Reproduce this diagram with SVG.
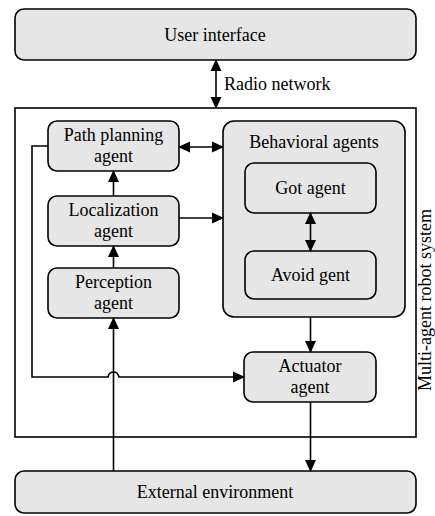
<svg xmlns="http://www.w3.org/2000/svg" width="435" height="516" viewBox="0 0 435 516">
<style>
.box{fill:#e6e6e6;stroke:#000;stroke-width:1.6}
.t{font-family:'Liberation Serif','Times New Roman','DejaVu Serif',serif;font-size:18px;fill:#000;text-anchor:middle}
.c{fill:none;stroke:#000;stroke-width:1.6}
</style>
<defs>
<marker id="ah" markerUnits="userSpaceOnUse" markerWidth="12" markerHeight="12" refX="11" refY="6" orient="auto-start-reverse" viewBox="0 0 12 12">
<path d="M0,0.5 L12,6 L0,11.5 z" fill="#000"/>
</marker>
</defs>
<rect x="0" y="0" width="435" height="516" fill="#fff"/>
<g id="system">
<rect x="15" y="108" width="401" height="329" fill="none" stroke="#000" stroke-width="1.6"/>
<text class="t" font-family="Liberation Serif, serif" transform="translate(431,300) rotate(-90)">Multi-agent robot system</text>
</g>
<g id="user-interface">
<rect class="box" x="15" y="9" width="401" height="51" rx="9"/>
<text class="t" x="215" y="41">User interface</text>
</g>
<g id="path-planning">
<rect class="box" x="48" y="121" width="131" height="50" rx="9"/>
<text class="t" x="113.5" y="141">Path planning</text>
<text class="t" x="113.5" y="162">agent</text>
</g>
<g id="localization">
<rect class="box" x="48" y="196" width="131" height="50" rx="9"/>
<text class="t" x="113.5" y="216">Localization</text>
<text class="t" x="113.5" y="237">agent</text>
</g>
<g id="perception">
<rect class="box" x="48" y="268" width="131" height="50" rx="9"/>
<text class="t" x="113.5" y="288">Perception</text>
<text class="t" x="113.5" y="309">agent</text>
</g>
<g id="behavioral">
<rect class="box" x="223" y="121" width="182" height="196" rx="11"/>
<text class="t" x="314" y="148">Behavioral agents</text>
</g>
<g id="got">
<rect class="box" x="245" y="163" width="131" height="50" rx="9"/>
<text class="t" x="310.5" y="194">Got agent</text>
</g>
<g id="avoid">
<rect class="box" x="245" y="251" width="131" height="48" rx="9"/>
<text class="t" x="310.5" y="281">Avoid gent</text>
</g>
<g id="actuator">
<rect class="box" x="244" y="352" width="132" height="50" rx="9"/>
<text class="t" x="310" y="372">Actuator</text>
<text class="t" x="310" y="393">agent</text>
</g>
<g id="external">
<rect class="box" x="15" y="471" width="401" height="42" rx="9"/>
<text class="t" x="215" y="498">External environment</text>
</g>
<g id="connectors">
<line class="c" x1="216" y1="60" x2="216" y2="108" marker-start="url(#ah)" marker-end="url(#ah)"/>
<text class="t" x="224" y="90" style="text-anchor:start">Radio network</text>
<line class="c" x1="179" y1="147" x2="223" y2="147" marker-start="url(#ah)" marker-end="url(#ah)"/>
<line class="c" x1="179" y1="218" x2="223" y2="218" marker-end="url(#ah)"/>
<line class="c" x1="113.5" y1="196" x2="113.5" y2="171" marker-end="url(#ah)"/>
<line class="c" x1="113.5" y1="268" x2="113.5" y2="246" marker-end="url(#ah)"/>
<line class="c" x1="310.5" y1="213" x2="310.5" y2="251" marker-start="url(#ah)" marker-end="url(#ah)"/>
<line class="c" x1="310.5" y1="317" x2="310.5" y2="352" marker-end="url(#ah)"/>
<line class="c" x1="310.5" y1="402" x2="310.5" y2="471" marker-end="url(#ah)"/>
<line class="c" x1="113.5" y1="471" x2="113.5" y2="318" marker-end="url(#ah)"/>
<path class="c" d="M48,146 H32 V377 H108 Q109,372 113.5,372 Q118,372 119,377 H244" marker-end="url(#ah)"/>
</g>
</svg>
